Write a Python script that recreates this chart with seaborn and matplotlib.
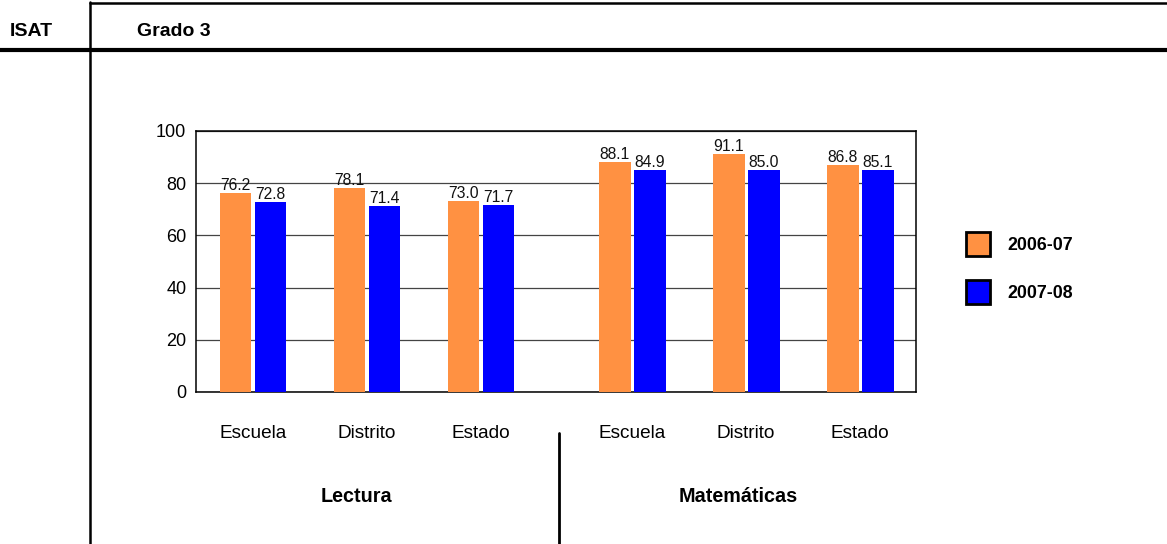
import matplotlib
matplotlib.use('Agg')
import matplotlib.pyplot as plt
import matplotlib.transforms as mtransforms
from matplotlib.lines import Line2D
from matplotlib.patches import Patch
import pandas as pd
import seaborn as sns

# Chart data
subjects = ['Lectura', 'Lectura', 'Lectura', 'Matemáticas', 'Matemáticas', 'Matemáticas']
levels = ['Escuela', 'Distrito', 'Estado', 'Escuela', 'Distrito', 'Estado']
years = ['2006-07', '2007-08']
scores_2006_07 = [76.2, 78.1, 73.0, 88.1, 91.1, 86.8]
scores_2007_08 = [72.8, 71.4, 71.7, 84.9, 85.0, 85.1]
y_ticks = [0, 20, 40, 60, 80, 100]

colors = {'2006-07': '#FF9142', '2007-08': '#0000FF'}

sns.set_style('white')
plt.rcParams['font.family'] = ['Liberation Sans', 'DejaVu Sans']
plt.rcParams['text.color'] = 'black'
plt.rcParams['xtick.color'] = 'black'
plt.rcParams['ytick.color'] = 'black'

W, H = 1167, 544
fig = plt.figure(figsize=(W / 100, H / 100), dpi=100)

# frame lines of the page (pixel coords -> figure coords)
def hline(y, x0, x1, lw):
    fig.add_artist(Line2D([x0 / W, x1 / W], [1 - y / H, 1 - y / H], color='black', lw=lw))

def vline(x, y0, y1, lw):
    fig.add_artist(Line2D([x / W, x / W], [1 - y0 / H, 1 - y1 / H], color='black', lw=lw))

hline(2.5, 90, W, 1.8)
hline(50, 0, W, 3.0)
vline(90.5, 2, H, 1.8)

fig.text(10 / W, 1 - 32 / H, 'ISAT', fontsize=14, fontweight='bold', va='center', ha='left')
fig.text(137 / W, 1 - 32 / H, 'Grado 3', fontsize=14, fontweight='bold', va='center', ha='left')

# bar data, positioned by group index with an extra gap between the subjects
subject_gap = 0.325
group_pos = [i + 0.5 + (subject_gap if s == 'Matemáticas' else 0) for i, s in enumerate(subjects)]

df = pd.DataFrame({
    'pos': group_pos * 2,
    'level': levels * 2,
    'subject': subjects * 2,
    'year': [years[0]] * 6 + [years[1]] * 6,
    'score': scores_2006_07 + scores_2007_08,
})

ax = fig.add_axes([196 / W, 1 - 392 / H, 720 / W, 261 / H])
sns.barplot(data=df, x='pos', y='score', hue='year', palette=colors, native_scale=True,
            width=0.614, gap=0.086, saturation=1, legend=False, ax=ax, errorbar=None,
            linewidth=0, zorder=3)

for cont in ax.containers:
    ax.bar_label(cont, fmt='%.1f', padding=0, fontsize=11.3, color='#111111')

ax.set_xlim(0, 720 / 114)
ax.set_ylim(0, 100)
ax.set_yticks(y_ticks)
ax.tick_params(axis='y', length=0, pad=7, labelsize=13)
ax.set_xticks(group_pos)
ax.set_xticklabels(levels)
ax.tick_params(axis='x', length=0, pad=24, labelsize=13.7)
ax.set_xlabel('')
ax.set_ylabel('')
ax.grid(axis='y', color='#444444', lw=0.9, zorder=0)
ax.set_axisbelow(True)
for sp in ax.spines.values():
    sp.set_color('black')
    sp.set_linewidth(1.1)
    sp.set_visible(True)

# subject labels and separator
blend = mtransforms.blended_transform_factory(ax.transData, fig.transFigure)
lect_x = sum(group_pos[:3]) / 3
mat_x = sum(group_pos[3:]) / 3
ax.text(lect_x - 0.09, 1 - 497 / H, 'Lectura', transform=blend, ha='center', va='center',
        fontsize=14.2, fontweight='bold')
ax.text(mat_x - 0.07, 1 - 497 / H, 'Matemáticas', transform=blend, ha='center', va='center',
        fontsize=14.2, fontweight='bold')
sep_x = (group_pos[2] + group_pos[3]) / 2 + 0.02
ax.add_line(Line2D([sep_x, sep_x], [1 - 433 / H, 0], transform=blend, color='black', lw=2,
                   clip_on=False))

# legend
handles = [Patch(facecolor=colors[y], edgecolor='black', linewidth=2, label=y) for y in years]
leg = fig.legend(handles=handles, loc='upper left', bbox_to_anchor=(966 / W, 1 - 232 / H),
                 bbox_transform=fig.transFigure, frameon=False, borderpad=0, borderaxespad=0,
                 handlelength=1.35, handleheight=1.7, handletextpad=0.95, labelspacing=1.34,
                 prop={'weight': 'bold', 'size': 12.8})

fig.savefig('out.png', dpi=100)
